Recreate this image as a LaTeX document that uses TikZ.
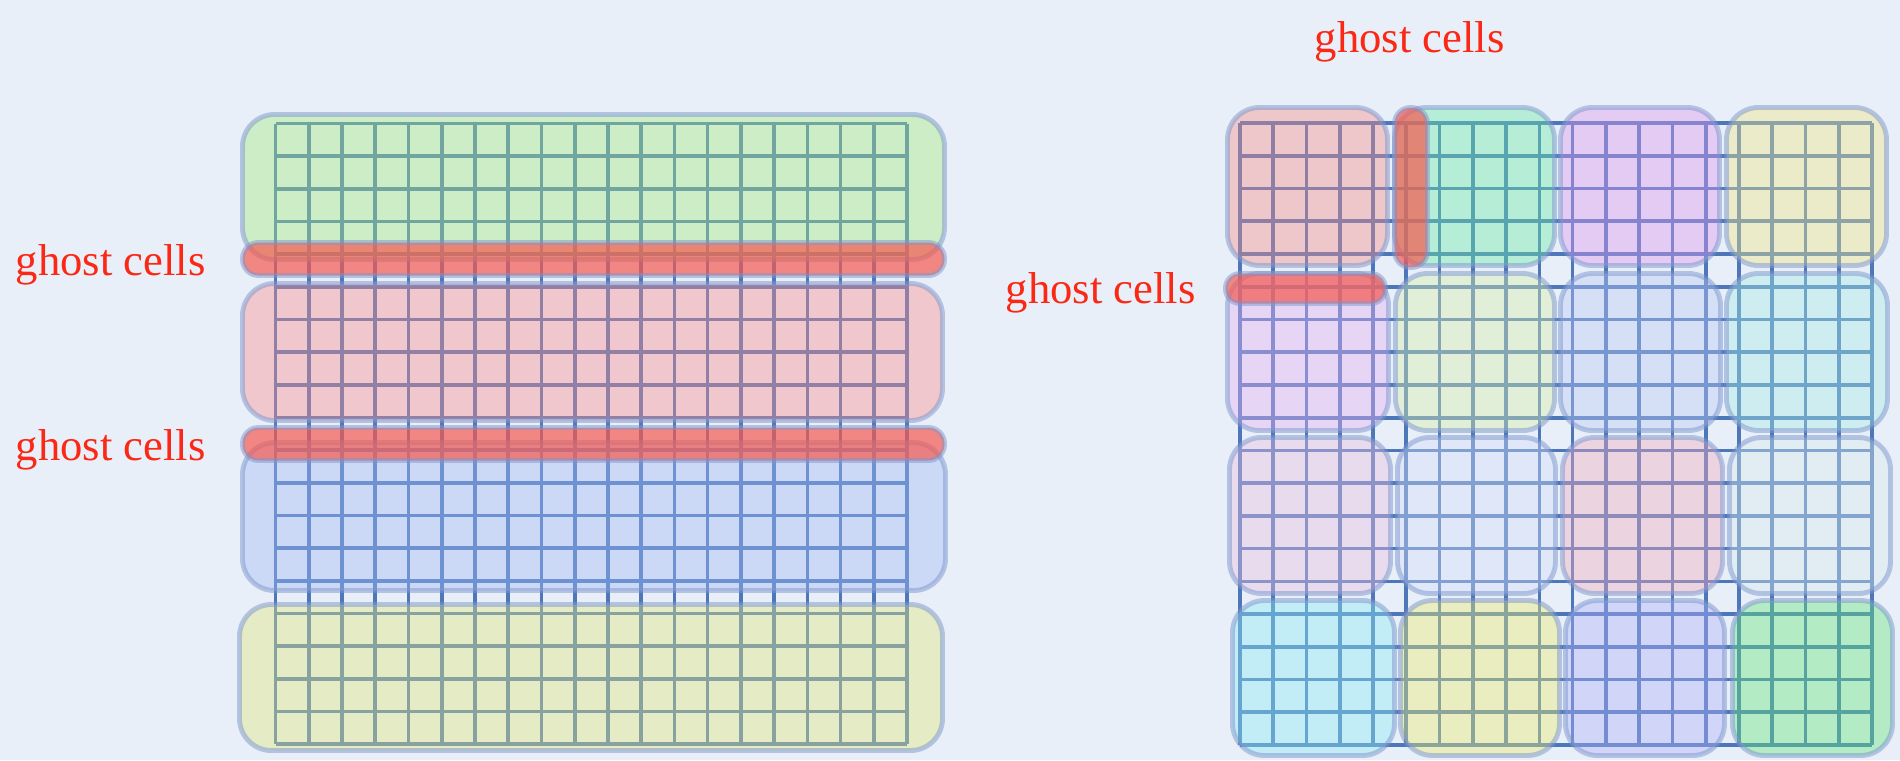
\documentclass[tikz,border=0pt]{standalone}
\usepackage{fontspec}
\setmainfont{Liberation Serif}

\definecolor{paper}{RGB}{233,239,248}
\definecolor{gridblue}{RGB}{40,90,170}
\definecolor{rimblue}{RGB}{125,150,205}
\definecolor{ghostred}{RGB}{245,90,80}
\definecolor{labelred}{RGB}{250,40,20}
% domain tints (drawn at 40% over the paper)
\definecolor{dGreen}{RGB}{163,234,123}
\definecolor{dPink}{RGB}{250,141,138}
\definecolor{dBlue}{RGB}{160,184,245}
\definecolor{dYellow}{RGB}{225,231,120}
\definecolor{qA}{RGB}{245,139,135}
\definecolor{qB}{RGB}{103,234,163}
\definecolor{qC}{RGB}{218,151,240}
\definecolor{qD}{RGB}{238,229,135}
\definecolor{qE}{RGB}{230,176,243}
\definecolor{qF}{RGB}{215,239,170}
\definecolor{qG}{RGB}{183,199,245}
\definecolor{qH}{RGB}{163,236,228}
\definecolor{qI}{RGB}{235,191,225}
\definecolor{qJ}{RGB}{208,221,248}
\definecolor{qK}{RGB}{238,169,190}
\definecolor{qL}{RGB}{213,234,235}
\definecolor{qM}{RGB}{140,234,243}
\definecolor{qN}{RGB}{235,236,108}
\definecolor{qO}{RGB}{173,176,248}
\definecolor{qP}{RGB}{100,229,120}

\tikzset{
  gridline/.style={draw=gridblue, draw opacity=0.8, line width=1.05pt},
  domain/.style={fill=#1, fill opacity=0.4, draw=rimblue, draw opacity=0.5,
    line width=1.4pt, rounded corners=3.2mm},
  ghost/.style={fill=ghostred, fill opacity=0.7, draw=rimblue, draw opacity=0.5,
    line width=1.4pt, rounded corners=#1},
  ghostlabel/.style={text=labelred, font=\fontsize{12.7}{15}\selectfont,
    inner sep=0pt, anchor=base west}
}

\begin{document}
\begin{tikzpicture}[x=0.1mm,y=-0.1mm]
\useasboundingbox (0,0) rectangle (1900,760);
\fill[paper] (0,0) rectangle (1900,760);

% ---------- 1D decomposition: 19 x 19 mesh cut into strips ----------
\draw[gridline]
  \foreach \i in {0,...,19} { ({275.5+\i*33.24},123.5) -- ({275.5+\i*33.24},744) }
  \foreach \j in {0,...,19} { (275.5,{123.5+\j*32.66}) -- (907,{123.5+\j*32.66}) };

\path[domain=dGreen]  (242.5,114.5) rectangle (944.5,259.5);
\path[domain=dPink]   (242.5,283.5) rectangle (942.5,420.5);
\path[domain=dBlue]   (242.5,442.5) rectangle (945.5,590.5);
\path[domain=dYellow] (239.5,604.5) rectangle (942.5,750.5);

\path[ghost=1.6mm] (242.5,242.5) rectangle (944.5,275.5);
\path[ghost=1.6mm] (242.5,427.5) rectangle (944.5,460.5);

\node[ghostlabel] (gl1) at (15,275) {ghost cells};
\node[ghostlabel] (gl2) at (15,460) {ghost cells};

% ---------- 2D decomposition: 19 x 19 mesh cut into 4 x 4 blocks ----------
\draw[gridline]
  \foreach \i in {0,...,19} { ({1240+\i*33.26},123) -- ({1240+\i*33.26},745) }
  \foreach \j in {0,...,19} { (1240,{123+\j*32.74}) -- (1872,{123+\j*32.74}) };

% row 1
\path[domain=qA] (1227.5,107.5) rectangle (1387.5,265.5);
\path[domain=qB] (1394.5,107.5) rectangle (1554.5,265.5);
\path[domain=qC] (1560.5,107.5) rectangle (1719.5,265.5);
\path[domain=qD] (1726.5,107.5) rectangle (1886.5,265.5);
% row 2
\path[domain=qE] (1227.5,273.5) rectangle (1388.5,430.5);
\path[domain=qF] (1395.5,273.5) rectangle (1554.5,430.5);
\path[domain=qG] (1560.5,273.5) rectangle (1720.5,430.5);
\path[domain=qH] (1726.5,273.5) rectangle (1887.5,430.5);
% row 3
\path[domain=qI] (1229.5,437.5) rectangle (1390.5,593.5);
\path[domain=qJ] (1397.5,437.5) rectangle (1555.5,593.5);
\path[domain=qK] (1562.5,437.5) rectangle (1722.5,593.5);
\path[domain=qL] (1729.5,437.5) rectangle (1890.5,593.5);
% row 4
\path[domain=qM] (1232.5,600.5) rectangle (1394.5,755.5);
\path[domain=qN] (1400.5,600.5) rectangle (1559.5,755.5);
\path[domain=qO] (1565.5,600.5) rectangle (1724.5,755.5);
\path[domain=qP] (1732.5,600.5) rectangle (1892.5,755.5);

\path[ghost=1.6mm]  (1394.5,107.5) rectangle (1427.5,267.5);
\path[ghost=1.45mm] (1225.5,273.5) rectangle (1385.5,303.5);

\node[ghostlabel] (gl3) at (1005,303) {ghost cells};
\node[ghostlabel] (gl4) at (1314,52) {ghost cells};
\end{tikzpicture}
\end{document}
